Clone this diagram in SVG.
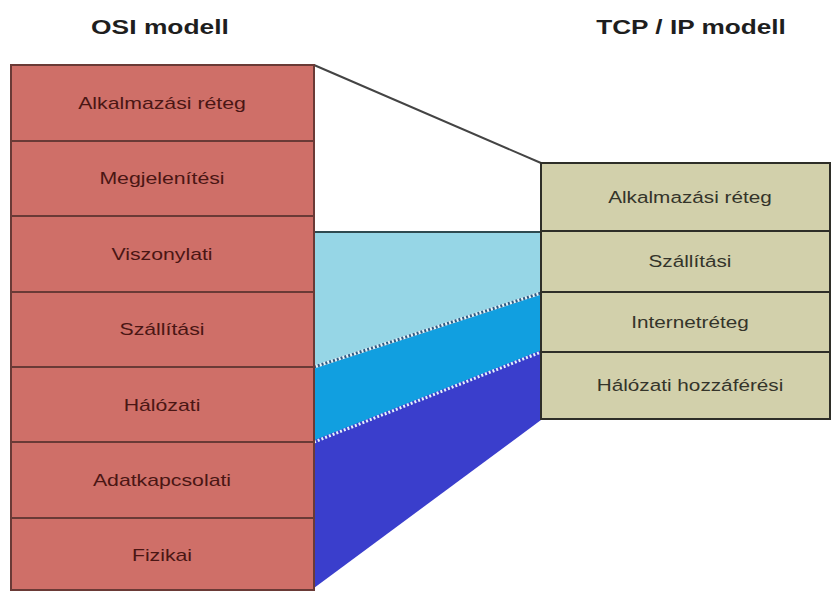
<svg xmlns="http://www.w3.org/2000/svg" width="831" height="591" viewBox="0 0 831 591">
<style>
.osi{fill:#CF6F68;stroke:#6A3A36;stroke-width:2}
.tcp{fill:#D2D0AB;stroke:#2E2E28;stroke-width:2}
.lt{font-family:"Liberation Sans",Arial,sans-serif;font-size:17px;fill:#4A1614;text-anchor:middle}
.rt{font-family:"Liberation Sans",Arial,sans-serif;font-size:17px;fill:#34342A;text-anchor:middle}
.title{font-family:"Liberation Sans",Arial,sans-serif;font-size:20px;font-weight:bold;fill:#1E1E1E;text-anchor:middle}
</style>
<rect width="831" height="591" fill="#FFFFFF"/>
<g id="titles">
<text class="title" transform="translate(160,34) scale(1.32,1)">OSI  modell</text>
<text class="title" transform="translate(691,34) scale(1.31,1)">TCP / IP modell</text>
</g>
<g id="connectors">
<polygon points="314,232 541,232 541,293 314,367" fill="#96D6E6"/>
<polygon points="314,367 541,293 541,352 314,442" fill="#119FE0"/>
<polygon points="314,442 541,352 541,420 314,588" fill="#3A3ECC"/>
<line x1="314" y1="232" x2="541" y2="232" stroke="#2E4A50" stroke-width="2"/>
<line x1="314" y1="65" x2="541" y2="163" stroke="#444444" stroke-width="2"/>
<line x1="314" y1="367" x2="541" y2="293" stroke="#E8F4F8" stroke-width="3"/>
<line x1="314" y1="367" x2="541" y2="293" stroke="#2F5C86" stroke-width="3" stroke-dasharray="2,2"/>
<line x1="314" y1="442" x2="541" y2="352" stroke="#3A3ECC" stroke-width="3"/>
<line x1="314" y1="442" x2="541" y2="352" stroke="#E6F2FA" stroke-width="3" stroke-dasharray="2,2"/>
</g>
<g id="osi-alkalmazasi"><rect class="osi" x="11" y="65" width="303" height="76"/><text class="lt" transform="translate(162,109) scale(1.25,1)">Alkalmazási réteg</text></g>
<g id="osi-megjelenitesi"><rect class="osi" x="11" y="141" width="303" height="75"/><text class="lt" transform="translate(162,184) scale(1.25,1)">Megjelenítési</text></g>
<g id="osi-viszonylati"><rect class="osi" x="11" y="216" width="303" height="76"/><text class="lt" transform="translate(162,260) scale(1.25,1)">Viszonylati</text></g>
<g id="osi-szallitasi"><rect class="osi" x="11" y="292" width="303" height="75"/><text class="lt" transform="translate(162,335) scale(1.25,1)">Szállítási</text></g>
<g id="osi-halozati"><rect class="osi" x="11" y="367" width="303" height="75"/><text class="lt" transform="translate(162,411) scale(1.25,1)">Hálózati</text></g>
<g id="osi-adatkapcsolati"><rect class="osi" x="11" y="442" width="303" height="76"/><text class="lt" transform="translate(162,486) scale(1.25,1)">Adatkapcsolati</text></g>
<g id="osi-fizikai"><rect class="osi" x="11" y="518" width="303" height="72"/><text class="lt" transform="translate(162,561) scale(1.25,1)">Fizikai</text></g>
<g id="tcp-alkalmazasi"><rect class="tcp" x="541" y="163" width="289" height="68"/><text class="rt" transform="translate(690,203) scale(1.22,1)">Alkalmazási réteg</text></g>
<g id="tcp-szallitasi"><rect class="tcp" x="541" y="231" width="289" height="61"/><text class="rt" transform="translate(690,267) scale(1.22,1)">Szállítási</text></g>
<g id="tcp-internet"><rect class="tcp" x="541" y="292" width="289" height="60"/><text class="rt" transform="translate(690,328) scale(1.22,1)">Internetréteg</text></g>
<g id="tcp-halozati"><rect class="tcp" x="541" y="352" width="289" height="67"/><text class="rt" transform="translate(690,391) scale(1.22,1)">Hálózati hozzáférési</text></g>
</svg>
